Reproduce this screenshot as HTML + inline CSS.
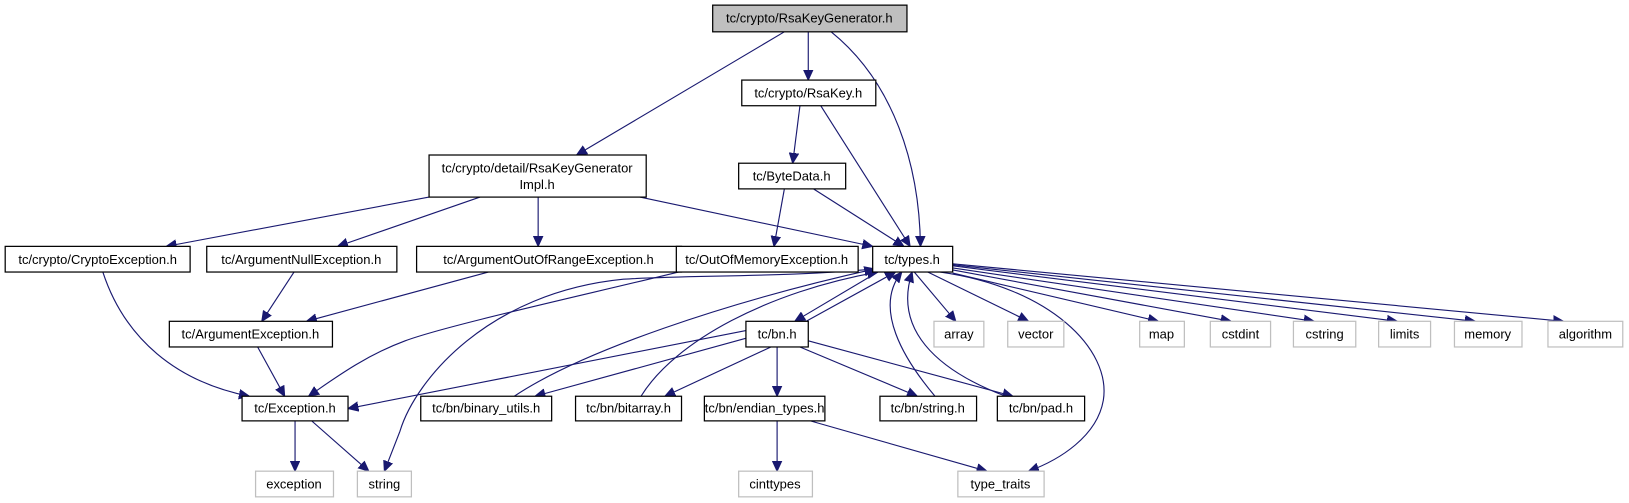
<!DOCTYPE html>
<html><head><meta charset="utf-8"><style>
html,body{margin:0;padding:0;background:#fff;}
svg{display:block}
text{font-family:"Liberation Sans",Arial,sans-serif;font-size:12.5px;fill:#000;text-anchor:middle}
.b{fill:#fff;stroke:#000;stroke-width:1.2}
.g{fill:#fff;stroke:#bfbfbf;stroke-width:1.2}
.e{fill:none;stroke:#191970;stroke-width:1.1}
</style></head><body>
<svg width="1629" height="503" viewBox="0 0 1568 490" preserveAspectRatio="none" xmlns="http://www.w3.org/2000/svg">
<defs><marker id="a" viewBox="0 0 10 10" refX="10" refY="5" markerWidth="10" markerHeight="10" markerUnits="userSpaceOnUse" orient="auto"><path d="M0,0.5 L10,5 L0,9.5 z" fill="#191970" stroke="#191970"/></marker></defs>
<g class="e" marker-end="url(#a)">
<path d="M755,31 L555,151"/>
<path d="M778,31 L778,78"/>
<path d="M800,31 C860,80 885,160 886,240"/>
<path d="M770,103 L763,159"/>
<path d="M790,103 L876,240"/>
<path d="M783,184 L870,240"/>
<path d="M755,184 L745,240"/>
<path d="M413,192 L160,240"/>
<path d="M462,192 L325,240"/>
<path d="M518,192 L518,240"/>
<path d="M616,192 L840,240"/>
<path d="M99,265 C120,330 170,372 240,386"/>
<path d="M283,265 L252,313"/>
<path d="M470,265 L295,313"/>
<path d="M248,338 L274,386"/>
<path d="M653,265 C560,288 430,317 390,332 C350,347 320,370 297,386"/>
<path d="M842,262 C760,270 660,268 600,272 C470,285 400,370 385,420 L370,459"/>
<path d="M880,265 L920,313"/>
<path d="M893,265 L990,313"/>
<path d="M917,266 L1115,313"/>
<path d="M917,263 L1185,313"/>
<path d="M917,261 L1265,313"/>
<path d="M917,259 L1345,313"/>
<path d="M917,258 L1420,313"/>
<path d="M917,257 L1505,313"/>
<path d="M905,265 C1010,280 1070,340 1062,390 C1056,425 1020,448 990,459"/>
<path d="M845,265 L765,313"/>
<path d="M776,313 L862,265"/>
<path d="M718,322 L335,398"/>
<path d="M720,329 L515,386"/>
<path d="M495,386 C560,342 700,294 842,262"/>
<path d="M742,338 L640,386"/>
<path d="M617,386 C650,332 740,284 845,265"/>
<path d="M748,338 L748,386"/>
<path d="M770,338 L883,386"/>
<path d="M900,386 C870,350 840,300 868,265"/>
<path d="M778,332 L975,386"/>
<path d="M968,386 C900,360 860,320 878,265"/>
<path d="M748,410 L748,459"/>
<path d="M780,410 L950,459"/>
<path d="M284,410 L284,459"/>
<path d="M300,410 L355,459"/>
</g>
<rect x="686" y="5" width="187" height="26" fill="#bfbfbf" stroke="#000" stroke-width="1.2"/><text x="779" y="22">tc/crypto/RsaKeyGenerator.h</text>
<rect class="b" x="714" y="78" width="129" height="25"/><text x="778" y="95">tc/crypto/RsaKey.h</text>
<rect class="b" x="413" y="151" width="209" height="41"/><text x="517" y="168">tc/crypto/detail/RsaKeyGenerator</text><text x="517" y="184">Impl.h</text>
<rect class="b" x="711" y="159" width="103" height="25"/><text x="762" y="176">tc/ByteData.h</text>
<rect class="b" x="5" y="240" width="178" height="25"/><text x="94" y="257">tc/crypto/CryptoException.h</text>
<rect class="b" x="199" y="240" width="183" height="25"/><text x="290" y="257">tc/ArgumentNullException.h</text>
<rect class="b" x="401" y="240" width="255" height="25"/><text x="528" y="257">tc/ArgumentOutOfRangeException.h</text>
<rect class="b" x="651" y="240" width="175" height="25"/><text x="738" y="257">tc/OutOfMemoryException.h</text>
<rect class="b" x="840" y="240" width="77" height="25"/><text x="878" y="257">tc/types.h</text>
<rect class="b" x="163" y="313" width="157" height="25"/><text x="241" y="330">tc/ArgumentException.h</text>
<rect class="b" x="718" y="313" width="60" height="25"/><text x="748" y="330">tc/bn.h</text>
<g><rect class="g" x="899" y="313" width="48" height="25"/><text x="923" y="330">array</text>
<rect class="g" x="970" y="313" width="54" height="25"/><text x="997" y="330">vector</text>
<rect class="g" x="1097" y="313" width="43" height="25"/><text x="1118" y="330">map</text>
<rect class="g" x="1165" y="313" width="58" height="25"/><text x="1194" y="330">cstdint</text>
<rect class="g" x="1245" y="313" width="60" height="25"/><text x="1275" y="330">cstring</text>
<rect class="g" x="1327" y="313" width="50" height="25"/><text x="1352" y="330">limits</text>
<rect class="g" x="1400" y="313" width="65" height="25"/><text x="1432" y="330">memory</text>
<rect class="g" x="1490" y="313" width="72" height="25"/><text x="1526" y="330">algorithm</text></g>
<rect class="b" x="233" y="386" width="102" height="24"/><text x="284" y="402">tc/Exception.h</text>
<rect class="b" x="405" y="386" width="126" height="24"/><text x="468" y="402">tc/bn/binary_utils.h</text>
<rect class="b" x="554" y="386" width="102" height="24"/><text x="605" y="402">tc/bn/bitarray.h</text>
<rect class="b" x="678" y="386" width="116" height="24"/><text x="736" y="402">tc/bn/endian_types.h</text>
<rect class="b" x="847" y="386" width="93" height="24"/><text x="893" y="402">tc/bn/string.h</text>
<rect class="b" x="960" y="386" width="84" height="24"/><text x="1002" y="402">tc/bn/pad.h</text>
<rect class="g" x="246" y="459" width="75" height="25"/><text x="283" y="476">exception</text>
<rect class="g" x="344" y="459" width="52" height="25"/><text x="370" y="476">string</text>
<rect class="g" x="711" y="459" width="71" height="25"/><text x="746" y="476">cinttypes</text>
<rect class="g" x="922" y="459" width="83" height="25"/><text x="963" y="476">type_traits</text>
</svg>
</body></html>
